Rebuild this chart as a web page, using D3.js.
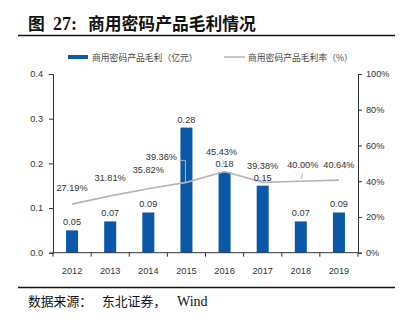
<!DOCTYPE html>
<html><head><meta charset="utf-8">
<script src="https://cdn.jsdelivr.net/npm/d3@7"></script>
<style>body{margin:0;background:#fff}svg{display:block}</style>
</head><body>
<svg id="c" width="411" height="321"></svg>
<script>
const years = ["2012","2013","2014","2015","2016","2017","2018","2019"];
const profit = [0.05,0.07,0.09,0.28,0.18,0.15,0.07,0.09];
const margin = [27.19,31.81,35.82,39.36,45.43,39.38,40.00,40.64];
const leftTicks = [0,0.1,0.2,0.3,0.4];
const rightTicks = [0,20,40,60,80,100];
// label offsets (dx, dy) relative to point
const pctLabelOffsets = [[0,-13],[0,-15],[0,-16],[-25,-22],[-3,-17],[0,-13],[2,-13],[0,-12]];

const svg = d3.select("#c");
const L = 53, R = 358, T = 74, B = 252.7;
const xs = d3.scaleBand().domain(years).range([L,R]);
const y = d3.scaleLinear().domain([0,0.4]).range([B,T]);
const y2 = d3.scaleLinear().domain([0,100]).range([B,T]);
const num = "'Liberation Sans', Arial, sans-serif";
const cjk = "'Noto Sans CJK SC', sans-serif";

// title
const tt = [["图",28],["27:",53],["商用密码产品毛利情况",88]];
tt.forEach(([t,xx])=>{
  svg.append("text").attr("x",xx).attr("y",30).attr("font-family",t==="27:"?"'Liberation Serif', serif":cjk).attr("font-weight","bold")
    .attr("font-size",t==="27:"?18:16.8).attr("fill","#111").text(t);
});
svg.append("line").attr("x1",18).attr("x2",395).attr("y1",35.5).attr("y2",35.5).attr("stroke","#111").attr("stroke-width",1.3);

// legend
svg.append("rect").attr("x",68).attr("y",55).attr("width",20).attr("height",4).attr("fill","#0a58a8");
svg.append("text").attr("x",92).attr("y",60.5).attr("font-family",cjk).attr("font-size",8.8).attr("fill","#444").text("商用密码产品毛利（亿元）");
svg.append("line").attr("x1",224).attr("x2",245).attr("y1",57).attr("y2",57).attr("stroke","#b5b5b5").attr("stroke-width",1.5);
svg.append("text").attr("x",248).attr("y",60.5).attr("font-family",cjk).attr("font-size",8.8).attr("fill","#444").text("商用密码产品毛利率（%）");

// bars
const cx = i => xs(years[i])+xs.bandwidth()/2;
svg.selectAll("rect.bar").data(profit).enter().append("rect").attr("class","bar")
  .attr("x",(d,i)=>cx(i)-6).attr("width",12)
  .attr("y",d=>y(d)).attr("height",d=>B-y(d)).attr("fill","#0a58a8");

// line
svg.append("path").datum(margin).attr("fill","none").attr("stroke","#b5b5b5").attr("stroke-width",1.6)
  .attr("d",d3.line().x((d,i)=>cx(i)).y(d=>y2(d)));

// axes
const gl = svg.append("g").attr("transform",`translate(${L},0)`)
  .call(d3.axisLeft(y).tickValues(leftTicks).tickFormat(d3.format(".1f")).tickSize(4).tickPadding(6));
const gr = svg.append("g").attr("transform",`translate(${R},0)`)
  .call(d3.axisRight(y2).tickValues(rightTicks).tickFormat(d=>d+"%").tickSize(4).tickPadding(4));
const gb = svg.append("g").attr("transform",`translate(0,${B})`)
  .call(d3.axisBottom(xs).tickSize(0).tickPadding(15));
svg.selectAll("line.xt").data(d3.range(years.length+1)).enter().append("line").attr("class","xt")
  .attr("x1",i=>L+i*xs.step()).attr("x2",i=>L+i*xs.step()).attr("y1",B).attr("y2",B+4)
  .attr("stroke","#333").attr("stroke-width",1);
[gl,gr,gb].forEach(g=>{
  g.select(".domain").attr("stroke","#333").attr("stroke-width",1);
  g.selectAll(".tick line").attr("stroke","#333");
  g.selectAll("text").attr("font-family",num).attr("font-size",9.2).attr("fill","#333");
});
gb.select(".domain").attr("d",`M${L},0H${R}`);

// bar value labels
svg.selectAll("text.bv").data(profit).enter().append("text").attr("class","bv")
  .attr("x",(d,i)=>cx(i)).attr("y",d=>y(d)-5).attr("text-anchor","middle")
  .attr("font-family",num).attr("font-size",9.2).attr("fill","#333").text(d=>d.toFixed(2));

// pct labels
svg.selectAll("text.pv").data(margin).enter().append("text").attr("class","pv")
  .attr("x",(d,i)=>cx(i)+pctLabelOffsets[i][0]).attr("y",(d,i)=>y2(d)+pctLabelOffsets[i][1])
  .attr("text-anchor","middle").attr("font-family",num).attr("font-size",9.2).attr("fill","#333")
  .text(d=>d.toFixed(2)+"%");
// leader lines
const p3 = [cx(3), y2(margin[3])];
svg.append("path").attr("fill","none").attr("stroke","#b5b5b5").attr("stroke-width",1)
  .attr("d",`M${p3[0]-7},${p3[1]-22}H${p3[0]-1}V${p3[1]}`);
const p4 = [cx(4), y2(margin[4])];
svg.append("line").attr("stroke","#b5b5b5").attr("x1",p4[0]-2).attr("y1",p4[1]-12).attr("x2",p4[0]-1).attr("y2",p4[1]-7);
const p6 = [cx(6), y2(margin[6])];
svg.append("line").attr("stroke","#b5b5b5").attr("x1",p6[0]+2).attr("y1",p6[1]-8).attr("x2",p6[0]).attr("y2",p6[1]-2);

// source
const sp = [["数据来源：",28,cjk],["东北证券，",102,cjk],["Wind",177,"'Liberation Serif', serif"]];
sp.forEach(([t,xx,f])=>{
  svg.append("text").attr("x",xx).attr("y",306).attr("font-size",f===cjk?12.8:14).attr("fill","#111")
    .attr("font-family",f).text(t);
});
svg.append("line").attr("x1",18).attr("x2",395).attr("y1",287.5).attr("y2",287.5).attr("stroke","#111").attr("stroke-width",1.3);
</script>
</body></html>
